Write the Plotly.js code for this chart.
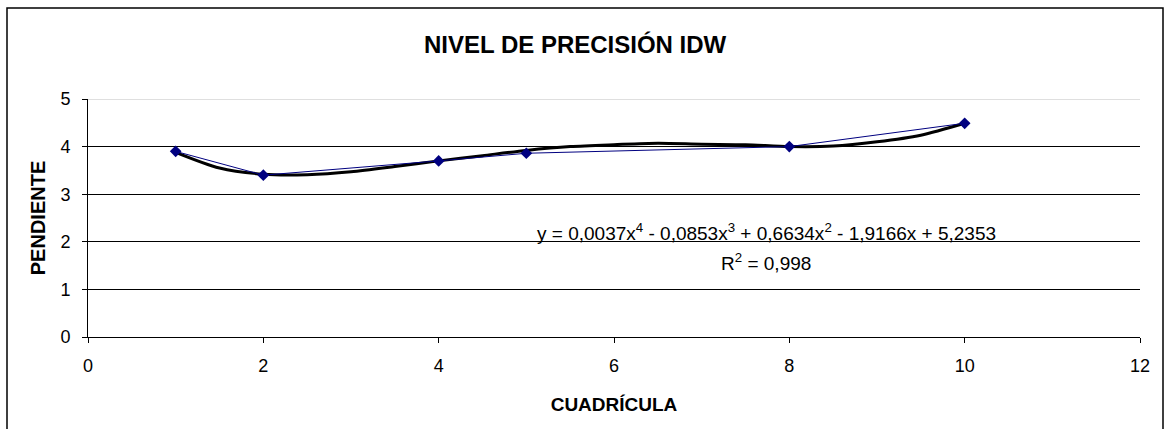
<!DOCTYPE html>
<html>
<head>
<meta charset="utf-8">
<script src="https://cdn.plot.ly/plotly-3.0.1.min.js"></script>
<style>
html,body{margin:0;padding:0;background:#fff;}
#chart{width:1169px;height:429px;}
</style>
</head>
<body>
<div id="chart"></div>
<script>
// Data series
const cuadricula = [1, 2, 4, 5, 8, 10];
const pendiente = [3.9, 3.4, 3.7, 3.86, 4.0, 4.49];

// Polynomial trendline as drawn
const trendX = [1, 1.5, 2, 2.5, 3, 3.5, 4, 4.5, 5, 5.5, 6, 6.5, 7, 7.5, 8, 8.5, 9, 9.5, 10];
const trendY = [3.88, 3.55, 3.42, 3.41, 3.47, 3.58, 3.70, 3.81, 3.92, 4.0, 4.04, 4.07, 4.05, 4.04, 4.0, 4.01, 4.10, 4.24, 4.49];

const xTicks = [0, 2, 4, 6, 8, 10, 12];
const yTicks = [0, 1, 2, 3, 4, 5];

const titleText = 'NIVEL DE PRECISIÓN IDW';
const xTitle = 'CUADRÍCULA';
const yTitle = 'PENDIENTE';
const eqText = 'y = 0,0037x<sup>4</sup> - 0,0853x<sup>3</sup> + 0,6634x<sup>2</sup> - 1,9166x + 5,2353';
const r2Text = 'R<sup>2</sup> = 0,998';

const FONT = 'Liberation Sans, Arial, sans-serif';

const traces = [
  {
    x: trendX, y: trendY, type: 'scatter', mode: 'lines',
    line: {color: '#000000', width: 3, shape: 'spline', smoothing: 0.8},
    hoverinfo: 'skip', showlegend: false
  },
  {
    x: cuadricula, y: pendiente, type: 'scatter', mode: 'lines+markers',
    line: {color: '#000080', width: 1},
    marker: {symbol: 'diamond', size: 9, color: '#000080'},
    hoverinfo: 'skip', showlegend: false
  }
];

const layout = {
  width: 1169, height: 429,
  paper_bgcolor: '#ffffff', plot_bgcolor: '#ffffff',
  margin: {l: 88, r: 29, t: 99, b: 92, pad: 0},
  font: {family: FONT, size: 18, color: '#000'},
  title: {
    text: titleText,
    font: {family: FONT, size: 24, weight: 'bold', color: '#000'},
    x: 0.492, xref: 'container', xanchor: 'center',
    y: 0.897, yref: 'container', yanchor: 'middle'
  },
  xaxis: {
    range: [0, 12], tickvals: xTicks, ticktext: xTicks.map(String),
    showgrid: false, zeroline: false,
    showline: true, linecolor: '#000', linewidth: 1,
    ticks: 'outside', ticklen: 5, tickcolor: '#000', tickwidth: 1,
    ticklabelstandoff: 7,
    tickfont: {family: FONT, size: 18, color: '#000'},
    title: {text: xTitle, font: {family: FONT, size: 19, weight: 'bold', color: '#000'}, standoff: 23},
    automargin: false, fixedrange: true
  },
  yaxis: {
    range: [0, 5], tickvals: yTicks, ticktext: yTicks.map(String),
    showgrid: true, gridcolor: '#000', gridwidth: 1, zeroline: false,
    showline: true, linecolor: '#000', linewidth: 1,
    ticks: 'outside', ticklen: 5, tickcolor: '#000', tickwidth: 1,
    ticklabelstandoff: 8,
    tickfont: {family: FONT, size: 18, color: '#000'},
    title: {text: yTitle, font: {family: FONT, size: 20, weight: 'bold', color: '#000'}, standoff: 9},
    automargin: false, fixedrange: true
  },
  annotations: [
    {text: eqText, xref: 'paper', yref: 'paper', x: 0.6445, y: 0.441,
     xanchor: 'center', yanchor: 'middle', showarrow: false,
     font: {family: FONT, size: 19, color: '#000'}},
    {text: r2Text, xref: 'paper', yref: 'paper', x: 0.6445, y: 0.315,
     xanchor: 'center', yanchor: 'middle', showarrow: false,
     font: {family: FONT, size: 19, color: '#000'}}
  ],
  shapes: [
    {type: 'line', xref: 'paper', yref: 'y', x0: 0, x1: 1, y0: 5, y1: 5,
     line: {color: '#c0c0c0', width: 1}},
    {type: 'rect', xref: 'paper', yref: 'paper',
     x0: -81 / 1052, x1: 1075 / 1052, y0: -95 / 238, y1: 329 / 238,
     line: {color: '#000', width: 1.5}, fillcolor: 'rgba(0,0,0,0)', layer: 'below'}
  ]
};

Plotly.newPlot('chart', traces, layout, {staticPlot: true, displayModeBar: false});
</script>
</body>
</html>
